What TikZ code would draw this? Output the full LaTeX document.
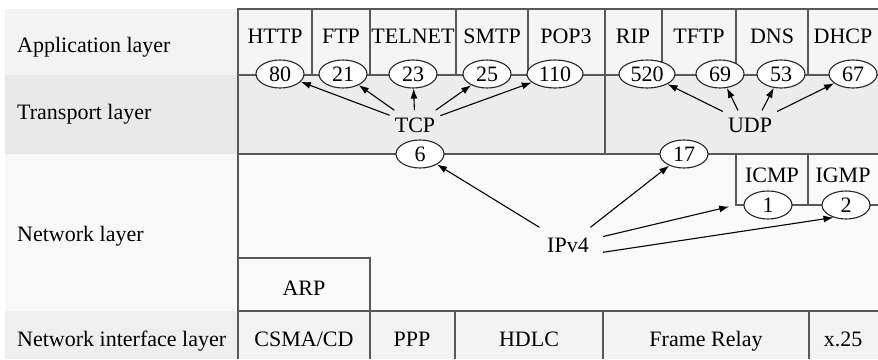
\documentclass[tikz,border=0pt]{standalone}
\usepackage{fontspec}
\setmainfont{Liberation Serif}
\usetikzlibrary{arrows.meta, shapes.geometric}

\definecolor{bandapp}{HTML}{F3F3F3}
\definecolor{bandtp}{HTML}{E9E9E9}
\definecolor{bandnet}{HTML}{F8F8F8}
\definecolor{bandif}{HTML}{EFEFEF}
\definecolor{cellapp}{HTML}{F5F5F5}
\definecolor{celltp}{HTML}{ECECEC}
\definecolor{cellnet}{HTML}{FAFAFA}
\definecolor{cellif}{HTML}{F3F3F3}

\begin{document}
\begin{tikzpicture}[
            x=1pt, y=-1pt,
            font=\fontsize{22}{26}\selectfont,
            grid/.style={draw=black!65, line width=1.4pt},
            port/.style={ellipse, draw=black!85, line width=1.1pt, fill=white, minimum width=48pt, minimum height=28pt, inner sep=0pt},
            lbl/.style={anchor=base, inner sep=0pt},
            layer/.style={anchor=base west, inner sep=0pt},
            proto/.style={anchor=base, inner xsep=5pt, inner ysep=7pt},
            arr/.style={-{Latex[length=10pt, width=7pt]}, line width=1.1pt}
        ]
            \useasboundingbox (0,0) rectangle (878,359);

            % Backgrounds
            \fill[bandapp] (5,9) rectangle (238,75);
            \fill[bandtp] (5,75) rectangle (238,154);
            \fill[bandnet] (5,154) rectangle (238,311);
            \fill[bandif] (5,311) rectangle (238,359);
            \fill[cellapp] (238,9) rectangle (878,75);
            \fill[celltp] (238,75) rectangle (878,154);
            \fill[cellnet] (238,154) rectangle (878,311);
            \fill[cellif] (238,311) rectangle (878,359);

            % Table lines
            \draw[grid] (878,9) -- (238,9) -- (238,359);
            \draw[grid] (238,75) -- (878,75);
            \draw[grid] (238,154) -- (878,154);
            \draw[grid] (238,311) -- (878,311);
            \foreach \x in {312,370,456,528,662,736,808}
                \draw[grid] (\x,9) -- (\x,75);
            \draw[grid] (605,9) -- (605,154);
            \draw[grid] (736,154) -- (736,205) -- (878,205);
            \draw[grid] (808,154) -- (808,205);
            \draw[grid] (238,258) -- (370,258) -- (370,359);
            \foreach \x in {455,603,809}
                \draw[grid] (\x,311) -- (\x,359);

            % Layer names
            \node[layer] (applayer) at (17,52) {Application layer};
            \node[layer] (tplayer) at (17,119) {Transport layer};
            \node[layer] (netlayer) at (17,241) {Network layer};
            \node[layer] (iflayer) at (17,346) {Network interface layer};

            % Row 1: applications and their ports
            \foreach \name/\x in {HTTP/275, FTP/341, TELNET/413, SMTP/492, POP3/566, RIP/633, TFTP/699, DNS/772, DHCP/843}
                \node[lbl] (\name) at (\x,43) {\name};
            \foreach \num/\x in {80/280, 21/343, 23/413, 25/487, 69/720, 53/781, 67/853}
                \node[port] (p\num) at (\x,74) {\num};
            \node[port, minimum width=56pt] (p110) at (555,74) {110};
            \node[port, minimum width=56pt] (p520) at (647,74) {520};

            % Row 2: TCP and UDP
            \node[proto] (tcp) at (415,132) {TCP};
            \node[proto] (udp) at (750,132) {UDP};
            \foreach \p in {80,21,23,25,110}
                \draw[arr] (tcp) -- (p\p);
            \draw[arr] (udp) -- (p520);
            \draw[arr] ([xshift=-12pt]udp.north) -- (p69);
            \draw[arr] ([xshift=12pt]udp.north) -- (p53);
            \draw[arr] (udp) -- (p67);

            % Row 3: IP and its protocols
            \node[port] (p6) at (420,154) {6};
            \node[port] (p17) at (684,154) {17};
            \node[lbl] (icmp) at (772,182) {ICMP};
            \node[lbl] (igmp) at (843,182) {IGMP};
            \node[port] (p1) at (768,205) {1};
            \node[port] (p2) at (846,205) {2};
            \coordinate (icmpbox) at (736,205);
            \node[lbl, inner xsep=14pt, inner ysep=10pt] (ipv4) at (568,252) {IPv4};
            \draw[arr] (ipv4) -- (p6);
            \draw[arr] (ipv4) -- (p17);
            \draw[arr, shorten >=7pt] (ipv4) -- (icmpbox);
            \draw[arr] (ipv4.-12) -- (p2.225);
            \node[lbl] (arp) at (304,295) {ARP};

            % Row 4: network interfaces
            \node[lbl] (csma) at (304,346) {CSMA/CD};
            \node[lbl] (ppp) at (412,346) {PPP};
            \node[lbl] (hdlc) at (529,346) {HDLC};
            \node[lbl] (frelay) at (706,346) {Frame Relay};
            \node[lbl] (x25) at (843,346) {x.25};
        \end{tikzpicture}
\end{document}
